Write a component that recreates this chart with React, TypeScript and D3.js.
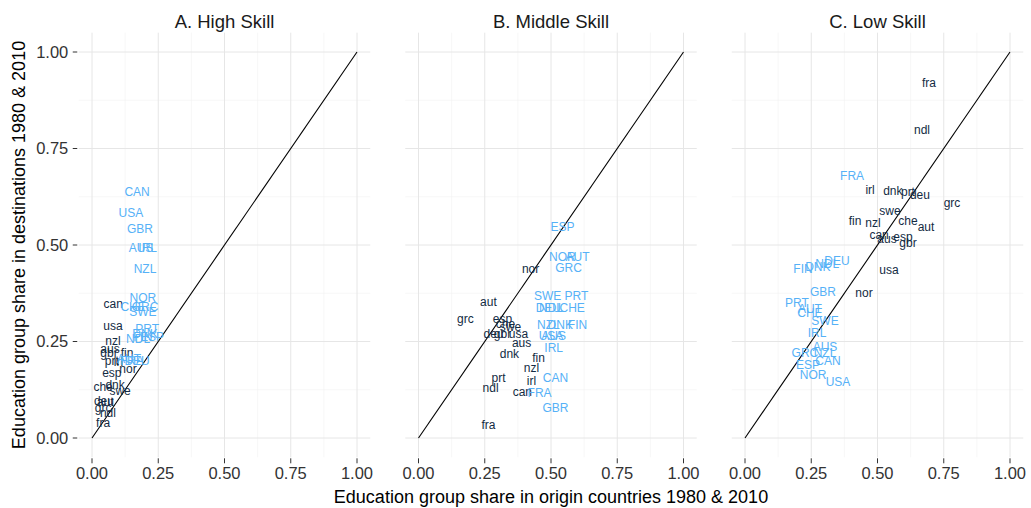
import React from "react";
import * as d3 from "d3";

const panelTitles = ["A. High Skill", "B. Middle Skill", "C. Low Skill"];
const tickValues = [0, 0.25, 0.5, 0.75, 1];
const tickLabels = ["0.00", "0.25", "0.50", "0.75", "1.00"];
const xTitle = "Education group share in origin countries 1980 & 2010";
const yTitle = "Education group share in destinations 1980 & 2010";

type Pt = [string, number, number];

// 1980 (lowercase, dark) and 2010 (uppercase, light) per panel
const high1980: Pt[] = [
  ["can", 0.08, 0.347], ["usa", 0.079, 0.29], ["nzl", 0.079, 0.251], ["aus", 0.068, 0.23],
  ["gbr", 0.064, 0.22], ["fin", 0.132, 0.22], ["prt", 0.075, 0.2], ["irl", 0.1, 0.198],
  ["nor", 0.136, 0.179], ["esp", 0.075, 0.168], ["dnk", 0.087, 0.137], ["che", 0.042, 0.132],
  ["swe", 0.106, 0.122], ["deu", 0.045, 0.096], ["aut", 0.05, 0.093], ["grc", 0.042, 0.078],
  ["ndl", 0.06, 0.065], ["fra", 0.042, 0.039],
];
const high2010: Pt[] = [
  ["CAN", 0.17, 0.637], ["USA", 0.147, 0.583], ["GBR", 0.181, 0.541], ["AUS", 0.185, 0.492],
  ["IRL", 0.21, 0.492], ["NZL", 0.2, 0.438], ["NOR", 0.192, 0.362], ["CHE", 0.155, 0.339],
  ["GRC", 0.2, 0.339], ["SWE", 0.192, 0.326], ["PRT", 0.208, 0.282], ["DNK", 0.2, 0.269],
  ["NDL", 0.174, 0.256], ["ESP", 0.226, 0.262], ["FIN", 0.192, 0.262], ["FRA", 0.15, 0.2],
  ["DEU", 0.17, 0.2], ["AUT", 0.14, 0.205],
];
const mid1980: Pt[] = [
  ["nor", 0.423, 0.438], ["aut", 0.264, 0.352], ["grc", 0.177, 0.308], ["esp", 0.317, 0.308],
  ["che", 0.328, 0.297], ["swe", 0.347, 0.288], ["deu", 0.283, 0.269], ["gbr", 0.317, 0.269],
  ["usa", 0.377, 0.269], ["aus", 0.389, 0.246], ["dnk", 0.343, 0.218], ["fin", 0.453, 0.207],
  ["nzl", 0.426, 0.181], ["prt", 0.302, 0.155], ["irl", 0.426, 0.148], ["ndl", 0.272, 0.13],
  ["can", 0.392, 0.119], ["fra", 0.264, 0.034],
];
const mid2010: Pt[] = [
  ["ESP", 0.543, 0.547], ["NOR", 0.543, 0.469], ["AUT", 0.6, 0.469], ["GRC", 0.566, 0.44],
  ["SWE", 0.487, 0.368], ["PRT", 0.596, 0.368], ["DEU", 0.49, 0.337], ["NDL", 0.5, 0.337],
  ["CHE", 0.58, 0.337], ["NZL", 0.49, 0.292], ["DNK", 0.535, 0.292], ["FIN", 0.6, 0.292],
  ["USA", 0.5, 0.266], ["AUS", 0.51, 0.266], ["IRL", 0.51, 0.233], ["CAN", 0.517, 0.155],
  ["FRA", 0.457, 0.116], ["GBR", 0.517, 0.078],
];
const low1980: Pt[] = [
  ["fra", 0.694, 0.92], ["ndl", 0.668, 0.798], ["irl", 0.472, 0.642], ["dnk", 0.558, 0.64],
  ["prt", 0.615, 0.637], ["deu", 0.66, 0.63], ["grc", 0.781, 0.609], ["swe", 0.547, 0.588],
  ["fin", 0.415, 0.562], ["nzl", 0.483, 0.557], ["che", 0.615, 0.562], ["aut", 0.683, 0.547],
  ["can", 0.506, 0.526], ["aus", 0.536, 0.516], ["esp", 0.596, 0.521], ["gbr", 0.615, 0.505],
  ["usa", 0.543, 0.435], ["nor", 0.449, 0.376],
];
const low2010: Pt[] = [
  ["FRA", 0.404, 0.679], ["DEU", 0.347, 0.459], ["NDL", 0.31, 0.451], ["DNK", 0.275, 0.443],
  ["FIN", 0.219, 0.438], ["GBR", 0.294, 0.378], ["PRT", 0.196, 0.35], ["AUT", 0.245, 0.334],
  ["CHE", 0.245, 0.324], ["SWE", 0.302, 0.303], ["IRL", 0.272, 0.272], ["AUS", 0.302, 0.236],
  ["GRC", 0.226, 0.22], ["NZL", 0.302, 0.22], ["CAN", 0.313, 0.2], ["ESP", 0.238, 0.189],
  ["NOR", 0.257, 0.163], ["USA", 0.351, 0.145],
];

const panels1980 = [high1980, mid1980, low1980];
const panels2010 = [high2010, mid2010, low2010];

const COLOR_1980 = "#132B43";
const COLOR_2010 = "#56B1F7";
const FONT = "'Liberation Sans', Arial, Helvetica, sans-serif";

export default function App() {
  const W = 1031, H = 508;
  const panelLeft0 = 78.75;
  const panelStep = 326.5;
  const panelW = 291.5;
  const top = 32.7, bottom = 457.3;

  const y = d3.scaleLinear().domain([-0.05, 1.05]).range([bottom, top]);
  const minor = [0.125, 0.375, 0.625, 0.875];

  return (
    <svg width={W} height={H} style={{ display: "block", position: "absolute", left: 0, top: 0 }} fontFamily={FONT}>
      <rect x={0} y={0} width={W} height={H} fill="#fff" />
      {panelTitles.map((title, i) => {
        const x0 = panelLeft0 + i * panelStep;
        const x = d3.scaleLinear().domain([-0.05, 1.05]).range([x0, x0 + panelW]);
        const diag = d3.line<number>().x((d) => x(d)).y((d) => y(d));
        return (
          <g key={i}>
            {minor.map((m) => (
              <g key={"mn" + m}>
                <line x1={x(m)} x2={x(m)} y1={top} y2={bottom} stroke="#f2f2f2" strokeWidth={0.6} />
                <line x1={x0} x2={x0 + panelW} y1={y(m)} y2={y(m)} stroke="#f2f2f2" strokeWidth={0.6} />
              </g>
            ))}
            {tickValues.map((t) => (
              <g key={"mj" + t}>
                <line x1={x(t)} x2={x(t)} y1={top} y2={bottom} stroke="#e6e6e6" strokeWidth={1} />
                <line x1={x0} x2={x0 + panelW} y1={y(t)} y2={y(t)} stroke="#e6e6e6" strokeWidth={1} />
              </g>
            ))}
            <path d={diag([0, 1]) || ""} stroke="#000" strokeWidth={1.1} fill="none" />
            {panels1980[i].map(([c, vx, vy]) => (
              <text key={c} x={x(vx)} y={y(vy)} dy="0.35em" textAnchor="middle" fontSize={12} fill={COLOR_1980}>{c}</text>
            ))}
            {panels2010[i].map(([c, vx, vy]) => (
              <text key={c} x={x(vx)} y={y(vy)} dy="0.35em" textAnchor="middle" fontSize={12} fill={COLOR_2010}>{c}</text>
            ))}
            <text x={x0 + panelW / 2} y={28} textAnchor="middle" fontSize={18.5} fill="#1a1a1a">{title}</text>
            {tickValues.map((t, k) => (
              <g key={"xt" + t}>
                <line x1={x(t)} x2={x(t)} y1={bottom + 1} y2={bottom + 6} stroke="#333" strokeWidth={1} />
                <text x={x(t)} y={bottom + 22} textAnchor="middle" fontSize={16.5} fill="#333">{tickLabels[k]}</text>
              </g>
            ))}
          </g>
        );
      })}
      {tickValues.map((t, k) => (
        <g key={"yt" + t}>
          <line x1={panelLeft0 - 6} x2={panelLeft0 - 1.5} y1={y(t)} y2={y(t)} stroke="#333" strokeWidth={1} />
          <text x={panelLeft0 - 10.5} y={y(t)} dy="0.36em" textAnchor="end" fontSize={16.5} fill="#333">{tickLabels[k]}</text>
        </g>
      ))}
      <text x={panelLeft0 + panelStep + panelW / 2} y={503} textAnchor="middle" fontSize={18} fill="#000">{xTitle}</text>
      <text transform={`translate(25, ${(top + bottom) / 2}) rotate(-90)`} textAnchor="middle" fontSize={18} fill="#000">{yTitle}</text>
    </svg>
  );
}
